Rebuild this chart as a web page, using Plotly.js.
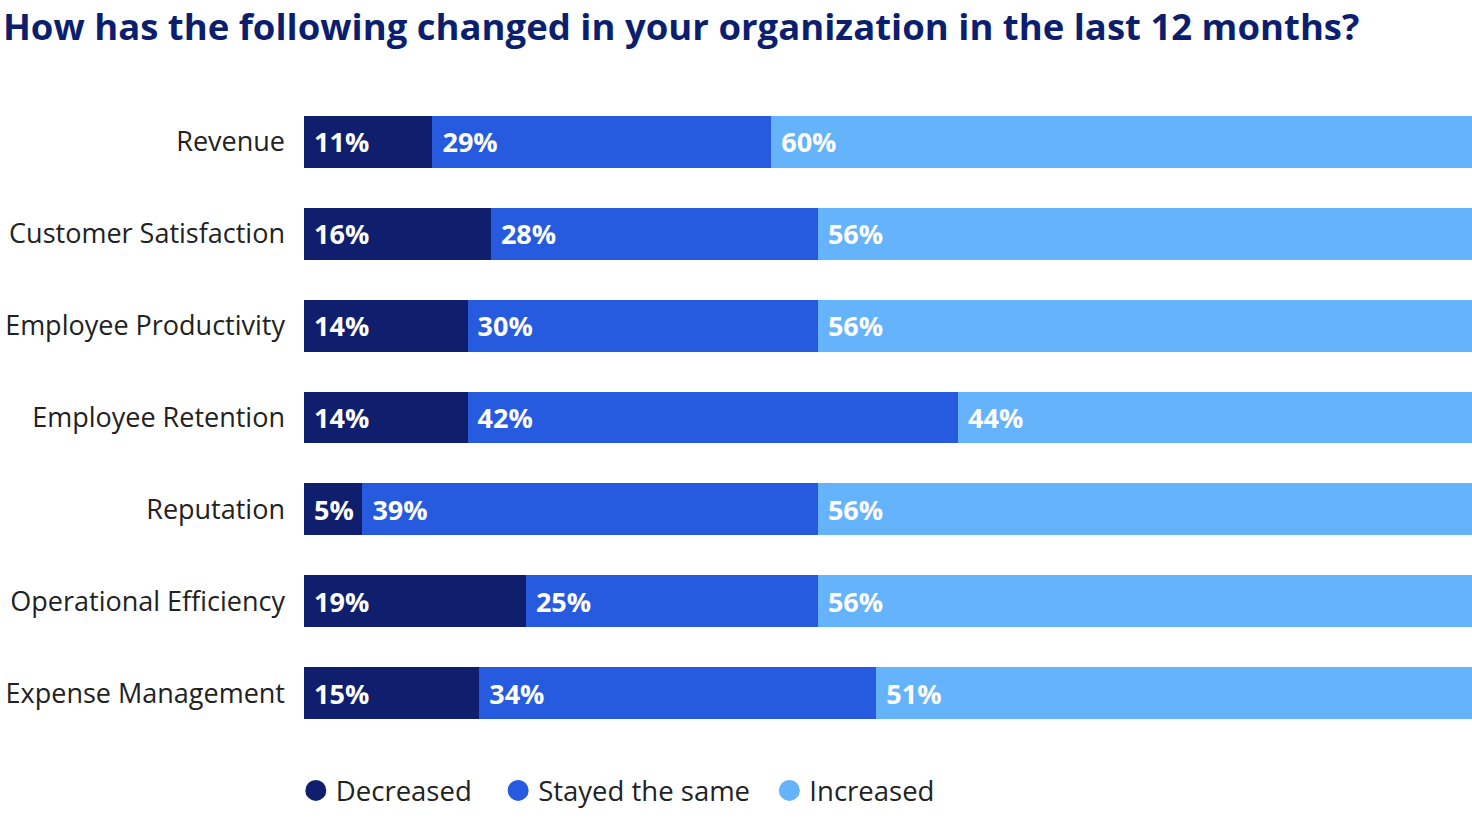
<!DOCTYPE html>
<html>
<head>
<meta charset="utf-8">
<script src="https://cdn.plot.ly/plotly-3.0.1.min.js"></script>
<style>html,body{margin:0;padding:0;background:#fff;}#chart{width:1472px;height:824px;}</style>
</head>
<body>
<div id="chart"></div>
<script>
const categories = ["Revenue", "Customer Satisfaction", "Employee Productivity", "Employee Retention", "Reputation", "Operational Efficiency", "Expense Management"];
const decreased = [11, 16, 14, 14, 5, 19, 15];
const stayedSame = [29, 28, 30, 42, 39, 25, 34];
const increased = [60, 56, 56, 44, 56, 56, 51];
const seriesNames = ["Decreased", "Stayed the same", "Increased"];
const colors = ["#0f1f6e", "#265be0", "#64b3fb"];
const legendPad = ["\u00a0\u00a0\u00a0", "\u00a0\u00a0", ""];

const seriesValues = [decreased, stayedSame, increased];
const traces = seriesValues.map((vals, i) => ({
  type: "bar",
  orientation: "h",
  y: categories,
  x: vals,
  name: seriesNames[i],
  marker: { color: colors[i], line: { width: 0 } },
  text: vals.map(v => "\u00a0" + v + "%"),
  textposition: "inside",
  insidetextanchor: "start",
  constraintext: "none",
  textangle: 0,
  insidetextfont: { color: "#ffffff", size: 27, family: "Open Sans, sans-serif", weight: "bold" },
  hoverinfo: "skip",
  showlegend: false
}));
seriesNames.forEach((n, i) => {
  traces.push({
    type: "scatter", mode: "markers", x: [null], y: [null],
    name: n + legendPad[i],
    marker: { color: colors[i], size: 16, symbol: "circle", line: { color: colors[i], width: 5 } },
    showlegend: true, hoverinfo: "skip"
  });
});

const layout = {
  width: 1472, height: 824,
  margin: { l: 304, r: 0, t: 95.5, b: 84.5 },
  paper_bgcolor: "#fff", plot_bgcolor: "#fff",
  barmode: "stack",
  bargap: 0.435,
  title: {
    text: "<b>How has the following changed in your organization in the last 12 months?</b>",
    font: { family: "Open Sans, sans-serif", size: 36.5, color: "#0b1f6e" },
    x: 0.002, xanchor: "left", y: 0.967, yanchor: "middle"
  },
  xaxis: { range: [0, 100], visible: false, fixedrange: true },
  yaxis: {
    autorange: "reversed", type: "category",
    showgrid: false, zeroline: false, showline: false, ticks: "",
    ticklabelstandoff: 18,
    tickfont: { family: "Open Sans, sans-serif", size: 27, color: "#222" }
  },
  legend: {
    orientation: "h", x: -0.007, xanchor: "left", y: -0.042, yanchor: "top",
    font: { family: "Open Sans, sans-serif", size: 27.5, color: "#222" },
    itemwidth: 30, tracegroupgap: 0, traceorder: "normal"
  },
  showlegend: true
};

Plotly.newPlot("chart", traces, layout, { displayModeBar: false, staticPlot: true });
</script>
</body>
</html>
